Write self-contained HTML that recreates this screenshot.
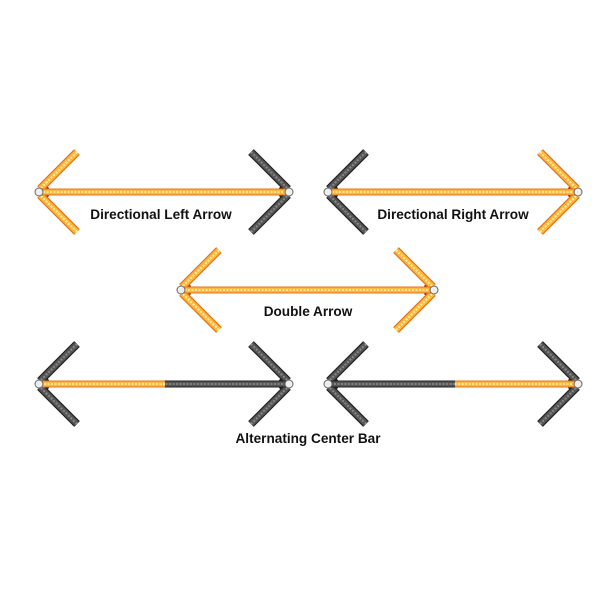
<!DOCTYPE html>
<html><head><meta charset="utf-8"><style>
html,body{margin:0;padding:0;background:#fff;}
svg{display:block}
text{font-family:"Liberation Sans",Arial,sans-serif;font-weight:bold;font-size:13.6px;fill:#111;text-anchor:middle}
</style></head><body>
<svg id="s" width="600" height="600" viewBox="0 0 600 600">
<text x="161" y="219">Directional Left Arrow</text>
<text x="453" y="219">Directional Right Arrow</text>
<text x="308" y="316">Double Arrow</text>
<text x="308" y="443">Alternating Center Bar</text>
</svg>
<script>
var s=document.getElementById('s'),NS='http://www.w3.org/2000/svg';
function el(t,a){var e=document.createElementNS(NS,t);for(var k in a)e.setAttribute(k,a[k]);s.insertBefore(e,s.firstChild);return e;}
var O=['#e0741a','#ffb640','#fff0a0'],D=['#222','#555','#888'];
function seg(x1,y1,x2,y2,w,c){
 el('line',{x1:x2,y1:y2,x2:x1,y2:y1,stroke:c[2],'stroke-width':w*0.25,'stroke-dasharray':'2 1.5'});
 el('line',{x1:x1,y1:y1,x2:x2,y2:y2,stroke:c[1],'stroke-width':w*0.7});
 el('line',{x1:x1,y1:y1,x2:x2,y2:y2,stroke:c[0],'stroke-width':w});
}
function arrow(L,R,y,lc,rc,bars){
 el('circle',{cx:L+3,cy:y,r:4,fill:'#eee',stroke:'#666','stroke-width':1});
 el('circle',{cx:R-3,cy:y,r:4,fill:'#eee',stroke:'#666','stroke-width':1});
 bars.forEach(function(b){seg(b[0],y,b[1],y,7,b[2]);});
 seg(L+4,y-3,L+41,y-40,8,lc);seg(L+4,y+3,L+41,y+40,8,lc);
 seg(R-4,y-3,R-41,y-40,8,rc);seg(R-4,y+3,R-41,y+40,8,rc);
 el('path',{d:'M'+(L+8)+' '+(y-9)+' Q'+(L+20)+' '+y+' '+(L+8)+' '+(y+9)+'Z',fill:lc==O?'#8a2a08':'#222'});
 el('path',{d:'M'+(R-8)+' '+(y-9)+' Q'+(R-20)+' '+y+' '+(R-8)+' '+(y+9)+'Z',fill:rc==O?'#8a2a08':'#222'});
}
arrow(36,292,192,O,D,[[38,290,O]]);
arrow(325,581,192,D,O,[[327,579,O]]);
arrow(178,437,290,O,O,[[180,435,O]]);
arrow(36,292,384,D,D,[[38,165,O],[165,290,D]]);
arrow(325,581,384,D,D,[[327,455,D],[455,579,O]]);
</script>
</body></html>
